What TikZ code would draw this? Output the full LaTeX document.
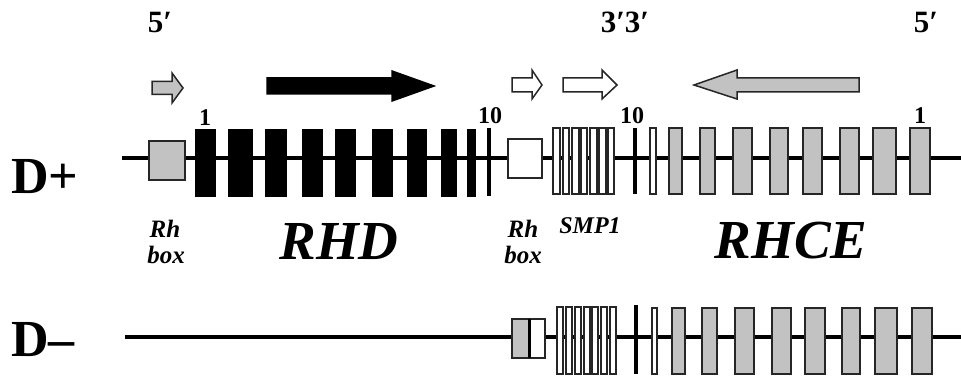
\documentclass[tikz,border=0pt]{standalone}
\usepackage{fontspec}
\setmainfont{Liberation Serif}
\definecolor{exgray}{RGB}{194,194,194}
\begin{document}
\begin{tikzpicture}[x=1pt,y=-1pt,
  chrom/.style={line width=4pt,black},
  blackex/.style={fill=black,draw=black,line width=0.8pt},
  grayex/.style={fill=exgray,draw=black!85,line width=1.3pt},
  whiteex/.style={fill=white,draw=black!85,line width=1.3pt},
  tickex/.style={line width=3.2pt,black},
  barrow/.style={draw=black!85,line width=1.5pt,line join=miter},
  lab/.style={inner sep=0pt,font=\bfseries},
  exlab/.style={inner sep=0pt,font=\bfseries\fontsize{24}{24}\selectfont},
  gene/.style={inner sep=0pt,font=\bfseries\itshape\fontsize{55}{55}\selectfont},
  small/.style={inner sep=0pt,font=\bfseries\itshape\fontsize{25}{25}\selectfont}]
\useasboundingbox (0,0) rectangle (961,382);
\fill[white] (0,0) rectangle (961,382);

% ---------- top labels ----------
\node[lab,font=\bfseries\fontsize{31}{31}\selectfont] (p5a) at (160,23) {5′};
\node[lab,font=\bfseries\fontsize{31}{31}\selectfont] (p33) at (625,22) {3′3′};
\node[lab,font=\bfseries\fontsize{31}{31}\selectfont] (p5b) at (926,23) {5′};

% ---------- block arrows ----------
\draw[barrow,fill=exgray] (152,81.5) -- (172,81.5) -- (172,73) -- (183,88) -- (172,103) -- (172,94.5) -- (152,94.5) -- cycle;
\draw[barrow,fill=black,draw=black] (267,78) -- (392,78) -- (392,71) -- (434,86) -- (392,101) -- (392,94) -- (267,94) -- cycle;
\draw[barrow,fill=white] (512,78) -- (532,78) -- (532,70) -- (542,85) -- (532,99) -- (532,92) -- (512,92) -- cycle;
\draw[barrow,fill=white] (563,78) -- (602,78) -- (602,70) -- (617,85) -- (602,99) -- (602,92) -- (563,92) -- cycle;
\draw[barrow,fill=exgray] (859,78) -- (737,78) -- (737,70) -- (694,85) -- (737,99) -- (737,92) -- (859,92) -- cycle;

% ---------- D+ row ----------
\node[lab,font=\bfseries\fontsize{52}{52}\selectfont,anchor=west] (dplus) at (11,177) {D+};
\draw[chrom] (122,158) -- (961,158);
\draw[grayex] (149,141) rectangle (185,180);
\foreach \a/\b in {195/215,228/252,265/286,302/322,335/355,372/392,407/426,441/456,467/475}
  \draw[blackex] (\a,129) rectangle (\b,196);
\draw[tickex] (489,128) -- (489,196);
\draw[whiteex] (508,139) rectangle (542,178);
\foreach \a/\b in {553/560,563/569,572/579,581/587,590/597,599/606,608/614}
  \draw[whiteex] (\a,128) rectangle (\b,194);
\draw[tickex] (635,128) -- (635,194);
\draw[whiteex] (650,128) rectangle (656,194);
\foreach \a/\b in {669/682,700/715,733/752,770/788,803/822,840/859,873/896,910/930}
  \draw[grayex] (\a,128) rectangle (\b,194);

\node[exlab] (n1a) at (205,118) {1};
\node[exlab] (n10a) at (490,116) {10};
\node[exlab] (n10b) at (632,116) {10};
\node[exlab] (n1b) at (920,116) {1};

% ---------- gene labels ----------
\node[small] (rh1) at (165,229) {Rh};
\node[small] (box1) at (166,255) {box};
\node[gene] (rhd) at (339,242) {RHD};
\node[small] (rh2) at (523,229) {Rh};
\node[small] (box2) at (523,255) {box};
\node[inner sep=0pt,font=\bfseries\itshape\fontsize{24}{24}\selectfont] (smp) at (590,226) {SMP1};
\node[gene] (rhce) at (791,241) {RHCE};

% ---------- D- row ----------
\node[lab,font=\bfseries\fontsize{52}{52}\selectfont,anchor=west] (dminus) at (11,340) {D–};
\draw[chrom] (125,337) -- (961,337);
\draw[grayex] (512,319) rectangle (529,358);
\draw[whiteex] (529,319) rectangle (545,358);
\draw[line width=3pt] (529,319) -- (529,358);
\foreach \a/\b in {557/563,566/572,575/581,584/590,592/598,601/607,610/616}
  \draw[whiteex] (\a,307) rectangle (\b,374);
\draw[tickex] (636,305) -- (636,374);
\draw[whiteex] (652,308) rectangle (657,374);
\foreach \a/\b in {672/685,702/717,735/754,772/791,805/825,842/860,875/897,912/932}
  \draw[grayex] (\a,308) rectangle (\b,374);
\end{tikzpicture}
\end{document}
